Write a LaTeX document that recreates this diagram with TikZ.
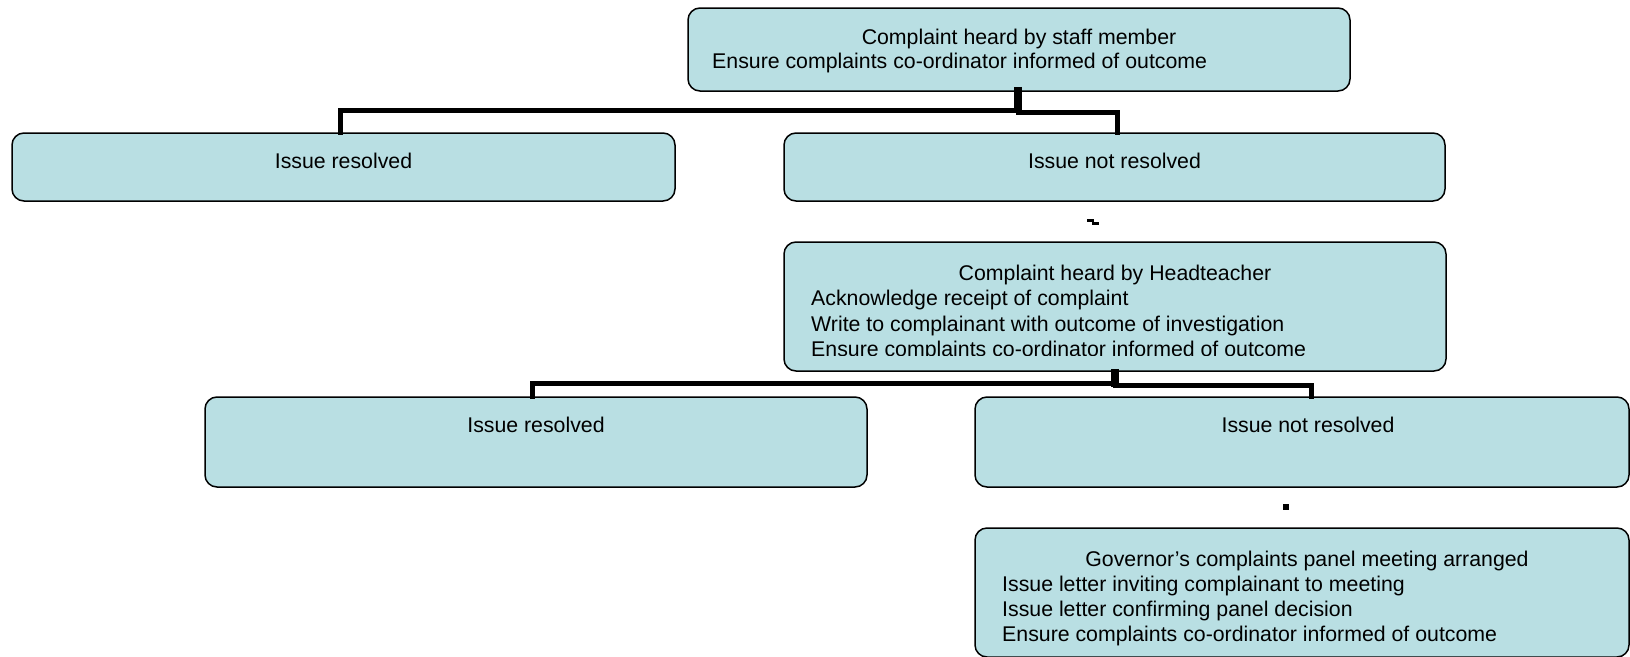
\documentclass[tikz,border=0pt]{standalone}
\usepackage{fontspec}
\setmainfont{Liberation Sans}
\definecolor{boxfill}{RGB}{185,223,227}
\tikzset{
  box/.style={draw=black, line width=1.5pt, fill=boxfill, rounded corners=12pt, inner sep=0pt, rectangle},
  conn/.style={draw=black, line width=5pt, line cap=rect},
  stub/.style={draw=black, line width=8pt},
  txt/.style={font=\fontsize{21.3}{25}\selectfont, inner sep=0pt, text=black},
  ctxt/.style={txt, anchor=base},
  ltxt/.style={txt, anchor=base west},
}
\begin{document}
\begin{tikzpicture}[x=1pt,y=-1pt]
\useasboundingbox (0,0) rectangle (1630,656);
% boxes
\node[box, minimum width=662pt, minimum height=83pt] (top) at (1019,49.5) {};
\node[box, minimum width=663pt, minimum height=68pt] (r1) at (343.5,167) {};
\node[box, minimum width=661pt, minimum height=68pt] (nr1) at (1114.5,167) {};
\node[box, minimum width=662pt, minimum height=129pt] (head) at (1115,306.5) {};
\node[box, minimum width=662pt, minimum height=90pt] (r2) at (536,442) {};
\node[box, minimum width=654pt, minimum height=90pt] (nr2) at (1302,442) {};
\node[box, minimum width=654pt, minimum height=129pt] (gov) at (1302,592.5) {};
% connectors
\draw[conn] ([xshift=-1pt]top.south) -- ++(0,19) -| ([xshift=-3pt]r1.north);
\draw[conn] ([xshift=-1pt]top.south) -- ++(0,21) -| ([xshift=3pt]nr1.north);
\draw[stub] ([xshift=-1pt,yshift=5pt]top.south) -- ++(0,25);
\draw[conn] (head.south) -- ++(0,12) -| ([xshift=-4pt]r2.north);
\draw[conn] (head.south) -- ++(0,14) -| ([xshift=9pt]nr2.north);
\draw[stub] ([yshift=3pt]head.south) -- ++(0,18);
% stray marks
\fill[black] (1087,219) rectangle (1094,222);
\fill[black] (1092,222) rectangle (1099,225);
\fill[black] (1283,504) rectangle (1289,510);
% texts
\node[ctxt] (t1) at (1019,44) {Complaint heard by staff member};
\node[ltxt] (t2) at (712,68) {Ensure complaints co-ordinator informed of outcome};
\node[ctxt] (t3) at (343.5,168) {Issue resolved};
\node[ctxt] (t4) at (1114.5,168) {Issue not resolved};
\begin{scope}
\clip (784,242) rectangle (1446,355);
\node[ctxt] (t5) at (1115,280) {Complaint heard by Headteacher};
\node[ltxt] (t6) at (811,305.5) {Acknowledge receipt of complaint};
\node[ltxt] (t7) at (811,331) {Write to complainant with outcome of investigation};
\node[ltxt] (t8) at (811,356.5) {Ensure complaints co-ordinator informed of outcome};
\end{scope}
\node[ctxt] (t9) at (536,432) {Issue resolved};
\node[ctxt] (t10) at (1308,432) {Issue not resolved};
\node[ctxt] (t11) at (1307,566) {Governor’s complaints panel meeting arranged};
\node[ltxt] (t12) at (1002,591) {Issue letter inviting complainant to meeting};
\node[ltxt] (t13) at (1002,616) {Issue letter confirming panel decision};
\node[ltxt] (t14) at (1002,641) {Ensure complaints co-ordinator informed of outcome};
\end{tikzpicture}
\end{document}
